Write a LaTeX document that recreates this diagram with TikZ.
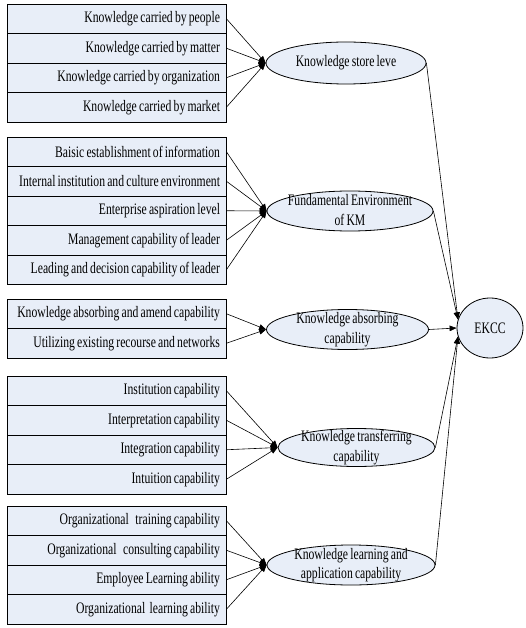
\documentclass[tikz,border=0pt]{standalone}
\usepackage{fontspec}
\setmainfont[FakeStretch=0.73, WordSpace=0.75]{Liberation Serif}
\usetikzlibrary{arrows.meta,shapes.geometric}
\definecolor{fillblue}{RGB}{232,238,248}
\begin{document}
\begin{tikzpicture}[x=1pt,y=-1pt,
  every node/.style={font=\fontsize{16}{19.5}\selectfont},
  rowbox/.style={draw, fill=fillblue, minimum width=219pt, minimum height=29.5pt,
    inner xsep=6pt, inner ysep=0pt, text width=207pt, align=flush right, line width=0.8pt},
  oval/.style={ellipse, draw, fill=fillblue, inner sep=0pt, line width=0.8pt},
  ovaltext/.style={inner sep=0pt, align=flush center},
  link/.style={-{Triangle[length=7pt,width=5.5pt]}, line width=0.6pt}
]
\useasboundingbox (0,0) rectangle (526,628);

% group 1
\node[rowbox] (a1) at (116.5,18.75) {Knowledge carried by people};
\node[rowbox] (a2) at (116.5,48.25) {Knowledge carried by matter};
\node[rowbox] (a3) at (116.5,77.75) {Knowledge carried by organization};
\node[rowbox] (a4) at (116.5,107.25) {Knowledge carried by market};

% group 2
\node[rowbox] (b1) at (116.5,151.75) {Baisic establishment of information};
\node[rowbox] (b2) at (116.5,181.25) {Internal institution and culture environment};
\node[rowbox] (b3) at (116.5,210.75) {Enterprise aspiration level};
\node[rowbox] (b4) at (116.5,240.25) {Management capability of leader};
\node[rowbox] (b5) at (116.5,269.75) {Leading and decision capability of leader};

% group 3
\node[rowbox] (c1) at (116.5,313.75) {Knowledge absorbing and amend capability};
\node[rowbox] (c2) at (116.5,343.25) {Utilizing existing recourse and networks};

% group 4
\node[rowbox] (d1) at (116.5,390.75) {Institution capability};
\node[rowbox] (d2) at (116.5,420.25) {Interpretation capability};
\node[rowbox] (d3) at (116.5,449.75) {Integration capability};
\node[rowbox] (d4) at (116.5,479.25) {Intuition capability};

% group 5
\node[rowbox] (f1) at (116.5,520.75) {Organizational\ \ \ training capability};
\node[rowbox] (f2) at (116.5,550.25) {Organizational\ \ \ consulting capability};
\node[rowbox] (f3) at (116.5,579.75) {Employee Learning ability};
\node[rowbox] (f4) at (116.5,609.25) {Organizational\ \ learning ability};

% ellipses
\node[oval, minimum width=160pt, minimum height=42pt] (e1) at (346,63) {};
\node[ovaltext] (t1) at (e1.center) {Knowledge store leve};
\node[oval, minimum width=166pt, minimum height=40pt] (e2) at (350,211) {};
\node[ovaltext] (t2) at ([yshift=1pt]e2.center) {Fundamental Environment\\of KM};
\node[oval, minimum width=162pt, minimum height=40pt] (e3) at (347.5,329.5) {};
\node[ovaltext] (t3) at (e3.center) {Knowledge absorbing\\capability};
\node[oval, minimum width=157pt, minimum height=38pt] (e4) at (356.5,447.5) {};
\node[ovaltext] (t4) at (e4.center) {Knowledge transferring\\capability};
\node[oval, minimum width=168pt, minimum height=40pt] (e5) at (351,565) {};
\node[ovaltext] (t5) at (e5.center) {Knowledge learning and\\application capability};
\node[oval, minimum width=66pt, minimum height=60pt] (k) at (490,328) {};
\node[ovaltext] (tk) at (k.center) {EKCC};

% connectors
\foreach \r in {a1,a2,a3,a4} \draw[link] (\r.east) -- (e1.west);
\foreach \r in {b1,b2,b3,b4,b5} \draw[link] (\r.east) -- (e2.west);
\foreach \r in {c1,c2} \draw[link] (\r.east) -- (e3.west);
\foreach \r in {d1,d2,d3,d4} \draw[link] (\r.east) -- (e4.west);
\foreach \r in {f1,f2,f3,f4} \draw[link] (\r.east) -- (e5.west);

\draw[link] (e1.east) -- (k.165);
\draw[link] (e2.east) -- (k.165);
\draw[link] (e3.east) -- (k.west);
\draw[link] (e4.east) -- (k.195);
\draw[link] (e5.east) -- (k.195);
\end{tikzpicture}
\end{document}
